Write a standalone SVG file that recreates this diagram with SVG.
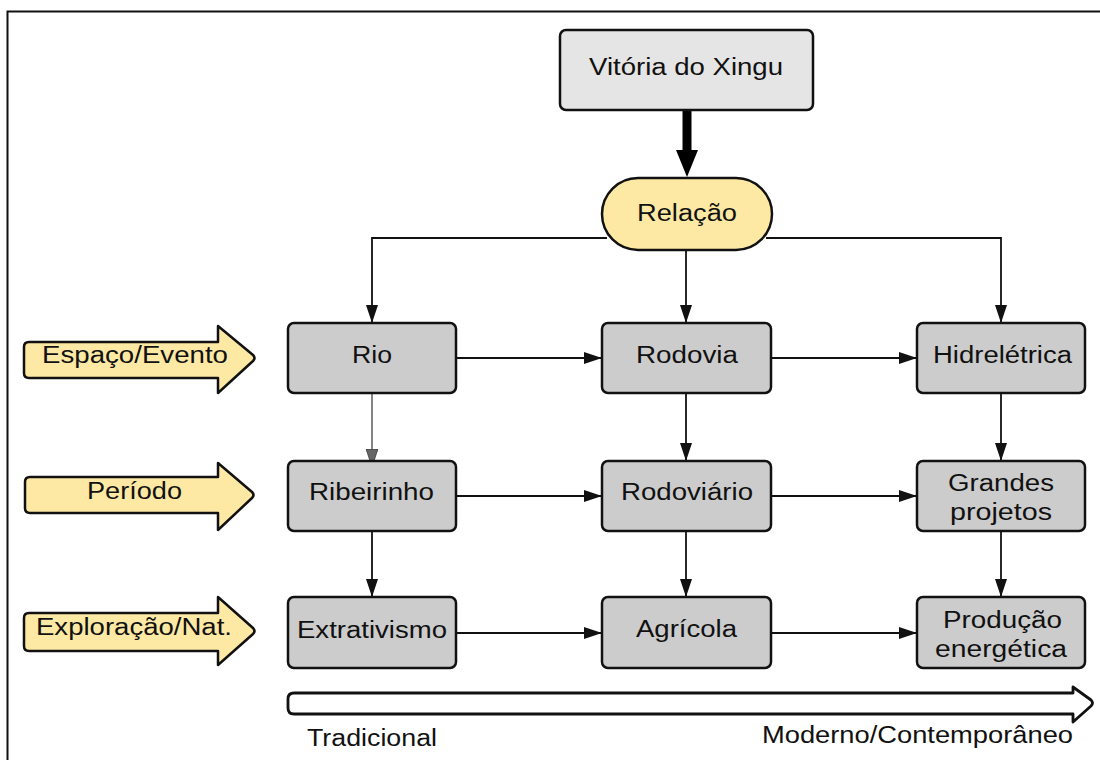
<svg xmlns="http://www.w3.org/2000/svg" width="1100" height="760" viewBox="0 0 1100 760">
<defs>
<style>
.t{font-family:"Liberation Sans",Arial,sans-serif;font-size:23px;fill:#111;}
.box{fill:#cccccc;stroke:#111;stroke-width:2.5;}
.yel{fill:#fde9a4;stroke:#111;stroke-width:2.5;stroke-linejoin:round;}
.c{fill:none;stroke:#111;stroke-width:1.8;}
</style>
<marker id="ah" viewBox="0 0 18 12" refX="18" refY="6" markerWidth="18" markerHeight="12" markerUnits="userSpaceOnUse" orient="auto">
<path d="M0,0 L18,6 L0,12 Z" fill="#111"/>
</marker>
<marker id="ahg" viewBox="0 0 18 12" refX="18" refY="6" markerWidth="18" markerHeight="12" markerUnits="userSpaceOnUse" orient="auto">
<path d="M0,0 L18,6 L0,12 Z" fill="#666" stroke="#222" stroke-width="0.6"/>
</marker>
</defs>
<rect width="1100" height="760" fill="#ffffff"/>
<path d="M7.5,760 V11.5 H1100" fill="none" stroke="#111" stroke-width="2"/>

<g id="connectors">
<line x1="687" y1="110" x2="687" y2="152" stroke="#000" stroke-width="9"/>
<path d="M676,150 L698,150 L687,177 Z" fill="#000"/>
<path class="c" d="M607,238 H372 V323" marker-end="url(#ah)"/>
<path class="c" d="M686,250 V323" marker-end="url(#ah)"/>
<path class="c" d="M766,238 H1001 V323" marker-end="url(#ah)"/>
<line class="c" x1="456" y1="358" x2="602" y2="358" marker-end="url(#ah)"/>
<line class="c" x1="771" y1="358" x2="917" y2="358" marker-end="url(#ah)"/>
<line class="c" x1="456" y1="496" x2="602" y2="496" marker-end="url(#ah)"/>
<line class="c" x1="771" y1="496" x2="917" y2="496" marker-end="url(#ah)"/>
<line class="c" x1="456" y1="633" x2="602" y2="633" marker-end="url(#ah)"/>
<line class="c" x1="771" y1="633" x2="917" y2="633" marker-end="url(#ah)"/>
<line x1="372" y1="393" x2="372" y2="467" stroke="#777" stroke-width="1.8" marker-end="url(#ahg)"/>
<line class="c" x1="372" y1="531" x2="372" y2="597" marker-end="url(#ah)"/>
<line class="c" x1="686" y1="393" x2="686" y2="461" marker-end="url(#ah)"/>
<line class="c" x1="686" y1="531" x2="686" y2="597" marker-end="url(#ah)"/>
<line class="c" x1="1001" y1="393" x2="1001" y2="461" marker-end="url(#ah)"/>
<line class="c" x1="1001" y1="531" x2="1001" y2="597" marker-end="url(#ah)"/>
</g>

<g id="vitoria">
<rect x="560" y="30" width="253" height="80" rx="6" fill="#e5e5e5" stroke="#111" stroke-width="2.5"/>
<text class="t" x="589" y="75" textLength="194" lengthAdjust="spacingAndGlyphs">Vitória do Xingu</text>
</g>
<g id="relacao">
<rect x="602" y="178" width="170" height="72" rx="36" class="yel"/>
<text class="t" x="637" y="221" textLength="100" lengthAdjust="spacingAndGlyphs">Relação</text>
</g>

<g id="espaco">
<path class="yel" d="M29,342 H218 V326 L253,355 Q256,358 253,361 L218,393 V378 H29 Q24,378 24,373 V347 Q24,342 29,342 Z"/>
<text class="t" x="42" y="363" textLength="186" lengthAdjust="spacingAndGlyphs">Espaço/Evento</text>
</g>
<g id="periodo">
<path class="yel" d="M30,477 H218 V463 L252,492 Q255,495 252,498 L218,530 V513 H30 Q25,513 25,508 V482 Q25,477 30,477 Z"/>
<text class="t" x="87" y="499" textLength="95" lengthAdjust="spacingAndGlyphs">Período</text>
</g>
<g id="exploracao">
<path class="yel" d="M29,613 H218 V597 L253,628 Q256,631 253,634 L218,665 V651 H29 Q24,651 24,646 V618 Q24,613 29,613 Z"/>
<text class="t" x="36" y="635" textLength="196" lengthAdjust="spacingAndGlyphs">Exploração/Nat.</text>
</g>

<g id="rio">
<rect class="box" x="288" y="323" width="168" height="70" rx="6"/>
<text class="t" x="352" y="363" textLength="40" lengthAdjust="spacingAndGlyphs">Rio</text>
</g>
<g id="rodovia">
<rect class="box" x="602" y="323" width="169" height="70" rx="6"/>
<text class="t" x="636" y="363" textLength="102" lengthAdjust="spacingAndGlyphs">Rodovia</text>
</g>
<g id="hidreletrica">
<rect class="box" x="917" y="323" width="168" height="70" rx="6"/>
<text class="t" x="933" y="363" textLength="139" lengthAdjust="spacingAndGlyphs">Hidrelétrica</text>
</g>
<g id="ribeirinho">
<rect class="box" x="288" y="461" width="168" height="70" rx="6"/>
<text class="t" x="309" y="500" textLength="125" lengthAdjust="spacingAndGlyphs">Ribeirinho</text>
</g>
<g id="rodoviario">
<rect class="box" x="602" y="461" width="169" height="70" rx="6"/>
<text class="t" x="621" y="500" textLength="132" lengthAdjust="spacingAndGlyphs">Rodoviário</text>
</g>
<g id="grandes">
<rect class="box" x="917" y="461" width="168" height="70" rx="6"/>
<text class="t" x="948" y="491" textLength="106" lengthAdjust="spacingAndGlyphs">Grandes</text>
<text class="t" x="950" y="520" textLength="102" lengthAdjust="spacingAndGlyphs">projetos</text>
</g>
<g id="extrativismo">
<rect class="box" x="288" y="597" width="168" height="71" rx="6"/>
<text class="t" x="297" y="638" textLength="150" lengthAdjust="spacingAndGlyphs">Extrativismo</text>
</g>
<g id="agricola">
<rect class="box" x="602" y="597" width="169" height="71" rx="6"/>
<text class="t" x="636" y="637" textLength="101" lengthAdjust="spacingAndGlyphs">Agrícola</text>
</g>
<g id="producao">
<rect class="box" x="917" y="597" width="168" height="71" rx="6"/>
<text class="t" x="943" y="628" textLength="119" lengthAdjust="spacingAndGlyphs">Produção</text>
<text class="t" x="935" y="657" textLength="132" lengthAdjust="spacingAndGlyphs">energética</text>
</g>

<g id="timeline">
<path d="M294,693 H1073 V687 L1091,700 Q1094,703 1091,706 L1073,722 V714 H294 Q288,714 288,708 V699 Q288,693 294,693 Z" fill="#fff" stroke="#111" stroke-width="2.8" stroke-linejoin="round"/>
<text class="t" x="307" y="746" textLength="130" lengthAdjust="spacingAndGlyphs">Tradicional</text>
<text class="t" x="762" y="743" textLength="311" lengthAdjust="spacingAndGlyphs">Moderno/Contemporâneo</text>
</g>
</svg>
